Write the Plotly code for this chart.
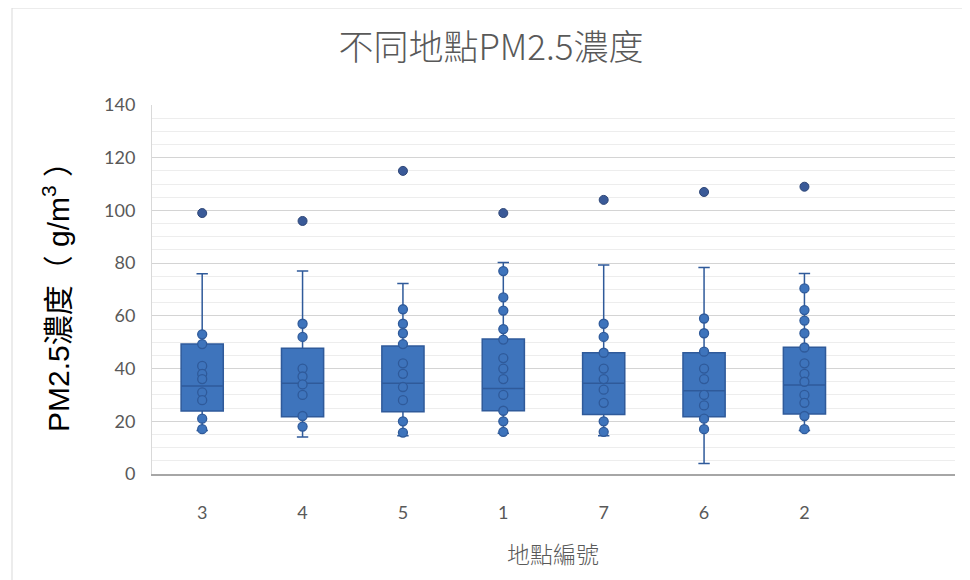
import plotly.graph_objects as go

# ---- data ----
sites = ["3", "4", "5", "1", "7", "6", "2"]
q1 = [23.9, 21.7, 23.6, 24.0, 22.6, 21.7, 22.8]
median = [33.4, 34.4, 34.4, 32.4, 34.4, 31.6, 33.8]
q3 = [49.3, 47.7, 48.6, 51.2, 46.0, 46.0, 48.1]
lower_whisker = [16.5, 14.0, 14.5, 15.5, 14.5, 4.0, 16.5]
upper_whisker = [76.0, 77.0, 72.3, 80.2, 79.3, 78.3, 76.1]
outliers = [99, 96, 115, 99, 104, 107, 109]

points_3 = [53, 49.3, 41, 38, 36, 31, 28, 21, 17]
points_4 = [57, 52, 40, 37, 34, 30, 22, 18]
points_5 = [62.5, 57, 53.4, 49.3, 42, 38, 33, 28, 20, 15.7]
points_1 = [77, 67, 62, 55, 51, 44, 40, 36, 30, 24, 20, 16]
points_7 = [57, 52, 46, 40, 36, 32, 27, 20, 16]
points_6 = [59, 53.4, 46.4, 40, 36, 30, 26, 21, 17]
points_2 = [70.4, 62.2, 58.2, 53.4, 48, 42, 38, 35, 30, 27, 22, 17]
inner_points = [points_3, points_4, points_5, points_1, points_7, points_6, points_2]

title_text = "不同地點PM2.5濃度"
y_title = "PM2.5濃度（ g/m<sup>3</sup> ）"
x_title = "地點編號"

# ---- style ----
BOX_FILL = "#3E74BC"
BOX_LINE = "#2F5A9A"
GRAY = "#595959"

# page has an 8px body margin; work in page coordinates and subtract it
OFF = 8
W, H = 970, 580
PL, PR, PT, PB = 152, 955, 105, 474   # plot area in page pixels
L, T = PL - OFF, PT - OFF
R, B = W - (PR - OFF), H - (PB - OFF)
pw, ph = PR - PL, PB - PT


def px(xp):
    return (xp - PL) / pw


def py(yp):
    return (PB - yp) / ph


fig = go.Figure()

fig.add_trace(go.Box(
    x=sites, q1=q1, median=median, q3=q3,
    lowerfence=lower_whisker, upperfence=upper_whisker,
    boxpoints=False, width=0.42, whiskerwidth=0.27,
    fillcolor=BOX_FILL, line=dict(color=BOX_LINE, width=1.5),
    showlegend=False, hoverinfo="skip",
))

px_, py_ = [], []
for s, pts in zip(sites, inner_points):
    px_ += [s] * len(pts)
    py_ += pts
fig.add_trace(go.Scatter(
    x=px_, y=py_, mode="markers",
    marker=dict(size=9, color=BOX_FILL, line=dict(color=BOX_LINE, width=1.3)),
    showlegend=False, hoverinfo="skip",
))
fig.add_trace(go.Scatter(
    x=sites, y=outliers, mode="markers",
    marker=dict(size=9, color="#3A5A98", line=dict(color="#2E4677", width=1)),
    showlegend=False, hoverinfo="skip",
))

fig.update_layout(
    width=W, height=H,
    margin=dict(l=L, r=R, t=T, b=B, pad=0),
    paper_bgcolor="white", plot_bgcolor="white",
    font=dict(family="Lato, Noto Sans CJK TC, sans-serif", color=GRAY),
    title=dict(text=title_text, x=(491 - OFF) / W, xref="container", xanchor="center",
               y=1 - (48 - OFF) / H, yref="container", yanchor="middle",
               font=dict(size=35, color=GRAY,
                         family="Noto Sans CJK TC, Lato, sans-serif", weight=300)),
    xaxis=dict(type="category", categoryorder="array", categoryarray=sites,
               range=[-0.5, 7.5], showgrid=False, zeroline=False,
               showline=True, linecolor="#A6A6A6", linewidth=1.5,
               ticks="", tickfont=dict(size=18, color=GRAY),
               ticklabelstandoff=22),
    yaxis=dict(range=[0, 140], dtick=20, tick0=0,
               showgrid=True, gridcolor="#D4D4D4", gridwidth=1,
               minor=dict(dtick=5, showgrid=True, gridcolor="#EDEDED", gridwidth=1),
               zeroline=False, showline=True, linecolor="#D9D9D9", linewidth=1,
               ticks="", tickfont=dict(size=18, color=GRAY),
               ticklabelstandoff=12),
    annotations=[
        dict(text=y_title, textangle=-90, xref="paper", yref="paper",
             x=px(56), y=py(290), xanchor="center", yanchor="middle",
             showarrow=False,
             font=dict(size=30, color="black", family="Liberation Sans, Noto Sans CJK TC, sans-serif")),
        dict(text=x_title, xref="paper", yref="paper",
             x=px(553), y=py(553), xanchor="center", yanchor="middle",
             showarrow=False,
             font=dict(size=23, color=GRAY, family="Noto Sans CJK TC, sans-serif", weight=300)),
    ],
    shapes=[
        dict(type="rect", xref="paper", yref="paper",
             x0=px(12), x1=px(966), y0=py(600), y1=py(8),
             line=dict(color="#D9D9D9", width=1), fillcolor="rgba(0,0,0,0)", layer="below"),
    ],
)

fig.write_html("out.html")
